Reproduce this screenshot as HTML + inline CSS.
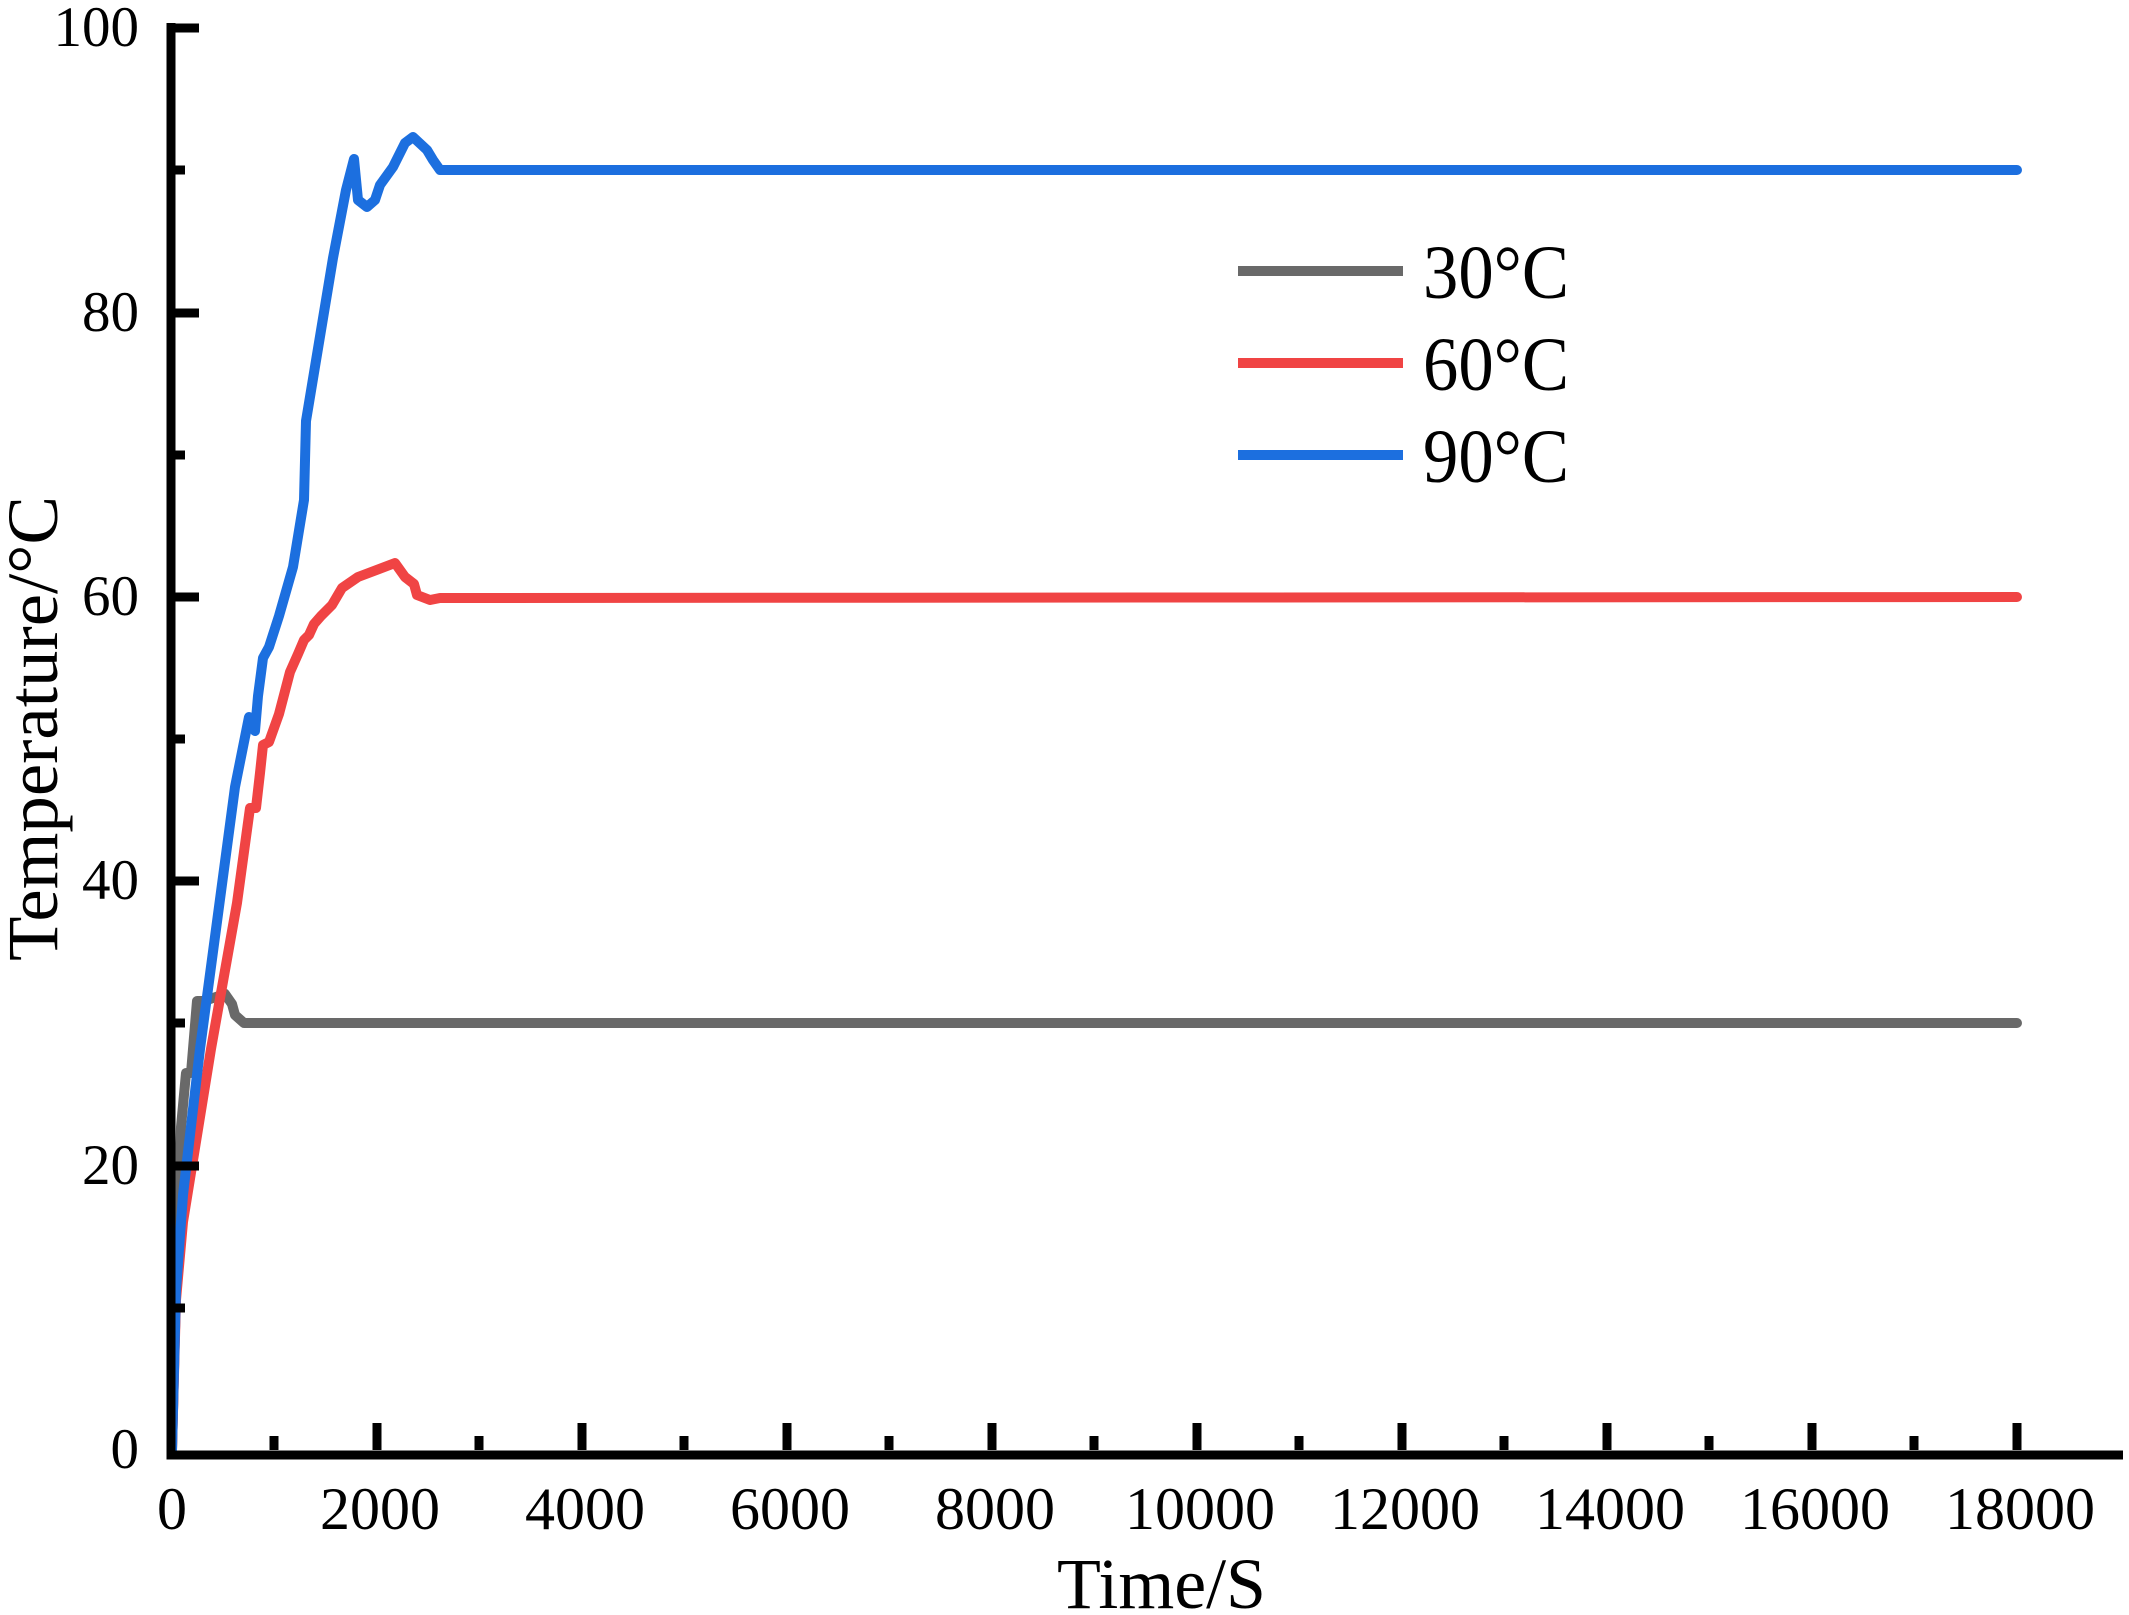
<!DOCTYPE html>
<html><head><meta charset="utf-8"><style>html,body{margin:0;padding:0;background:#fff}svg{display:block}</style></head>
<body>
<svg width="2129" height="1615" viewBox="0 0 2129 1615" xmlns="http://www.w3.org/2000/svg" font-family="'Liberation Serif', serif">
<rect width="2129" height="1615" fill="#fff"/>
<g fill="none" stroke-width="10" stroke-linejoin="round" stroke-linecap="round">
<path stroke="#696969" d="M172,1450 L176,1290 L181,1127 L186,1073 L191,1073 L197,1001 L204,1001 L225,994 L232,1004 L235,1015 L244,1023 L2017,1023"/>
<path stroke="#f04444" d="M172,1450 L176,1300 L183,1222 L211,1049 L237,903 L250,808 L256,808 L260,773 L263,745 L269,742 L279,714 L290,672 L298,654 L304,640 L309,635 L314,624 L321,616 L332,605 L342,588 L358,577 L395,563 L405,577 L414,584 L417,595 L430,600 L440,598 L2017,597"/>
<path stroke="#1c6fdf" d="M172,1450 L176,1290 L183,1195 L200,1049 L235,787 L249,717 L255,731 L258,696 L263,658 L269,647 L279,616 L293,567 L304,500 L306,421 L333,258 L346,190 L354,159 L358,200 L367,207 L375,200 L380,185 L393,167 L405,143 L413,137 L427,150 L433,160 L440,170 L2017,170"/>
</g>
<g stroke="#000" stroke-width="9" fill="none">
<path d="M171,23 L171,1455 L2123,1455"/>
<path d="M171,28 H199 M171,313 H199 M171,597 H199 M171,881 H199 M171,1166 H199"/>
<path d="M171,170 H185 M171,455 H185 M171,739 H185 M171,1023 H185 M171,1308 H185"/>
<path d="M377,1450 V1423 M582,1450 V1423 M787,1450 V1423 M992,1450 V1423 M1197,1450 V1423 M1402,1450 V1423 M1607,1450 V1423 M1812,1450 V1423 M2017,1450 V1423"/>
<path d="M274,1450 V1436 M479,1450 V1436 M684,1450 V1436 M889,1450 V1436 M1094,1450 V1436 M1299,1450 V1436 M1504,1450 V1436 M1709,1450 V1436 M1914,1450 V1436"/>
</g>
<g font-size="57" fill="#000" text-anchor="end">
<text x="139" y="46">100</text><text x="139" y="331">80</text><text x="139" y="615">60</text><text x="139" y="899">40</text><text x="139" y="1184">20</text><text x="139" y="1468">0</text>
</g>
<g font-size="60" fill="#000" text-anchor="middle">
<text x="172" y="1529">0</text><text x="380" y="1529">2000</text><text x="585" y="1529">4000</text><text x="790" y="1529">6000</text><text x="995" y="1529">8000</text><text x="1200" y="1529">10000</text><text x="1405" y="1529">12000</text><text x="1610" y="1529">14000</text><text x="1815" y="1529">16000</text><text x="2020" y="1529">18000</text>
</g>
<text x="1057" y="1608" font-size="72" textLength="209" lengthAdjust="spacingAndGlyphs">Time/S</text>
<text transform="translate(57,961) rotate(-90)" x="0" y="0" font-size="72" textLength="465" lengthAdjust="spacingAndGlyphs">Temperature/°C</text>
<g stroke-width="10">
<line x1="1238" y1="271" x2="1403" y2="271" stroke="#696969"/>
<line x1="1238" y1="363" x2="1403" y2="363" stroke="#f04444"/>
<line x1="1238" y1="455" x2="1403" y2="455" stroke="#1c6fdf"/>
</g>
<g font-size="76" fill="#000">
<text x="1423" y="298" textLength="146" lengthAdjust="spacingAndGlyphs">30°C</text>
<text x="1423" y="390" textLength="146" lengthAdjust="spacingAndGlyphs">60°C</text>
<text x="1423" y="482" textLength="146" lengthAdjust="spacingAndGlyphs">90°C</text>
</g>
</svg>
</body></html>
